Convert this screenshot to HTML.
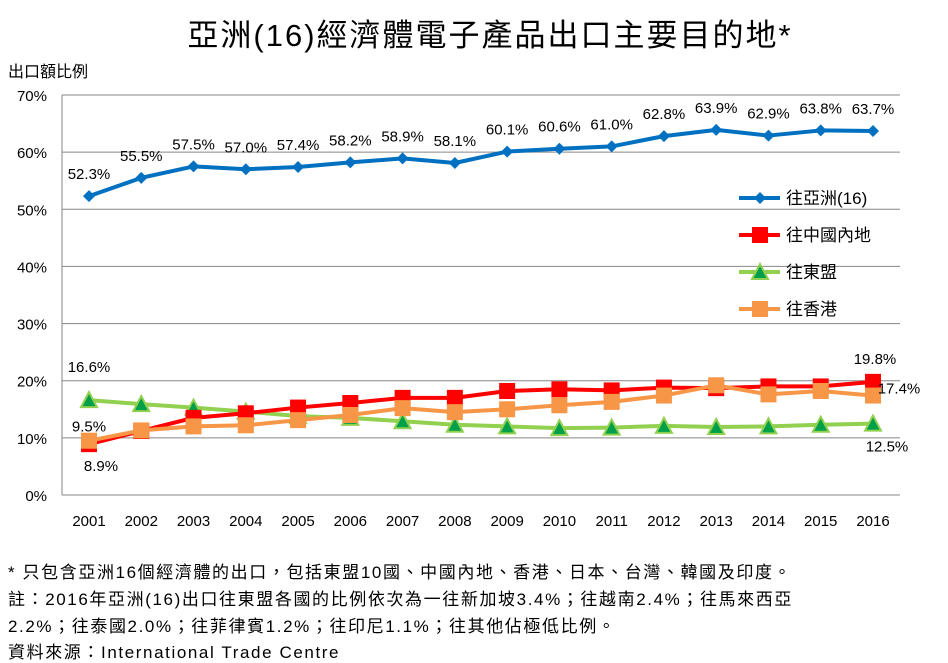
<!DOCTYPE html>
<html><head><meta charset="utf-8">
<style>
body{margin:0;background:#fff;width:948px;height:662px;overflow:hidden;font-family:"Liberation Sans","Noto Sans CJK TC",sans-serif;}
svg text{font-family:"Liberation Sans","Noto Sans CJK TC",sans-serif;}
.note{position:absolute;left:8px;font-size:17px;letter-spacing:1.6px;color:#000;line-height:21px;white-space:nowrap;}
</style></head>
<body>
<svg id="chart" width="948" height="662" style="position:absolute;left:0;top:0">
<text x="490" y="46" font-size="31" letter-spacing="2" text-anchor="middle">亞洲(16)經濟體電子產品出口主要目的地*</text>
<text x="8" y="77" font-size="16">出口額比例</text>
<g id="grid"></g><g id="series"></g><g id="legend"></g>
</svg>
<div class="note" style="top:562px">* 只包含亞洲16個經濟體的出口，包括東盟10國、中國內地、香港、日本、台灣、韓國及印度。</div>
<div class="note" style="top:589px">註：2016年亞洲(16)出口往東盟各國的比例依次為一往新加坡3.4%；往越南2.4%；往馬來西亞</div>
<div class="note" style="top:616px">2.2%；往泰國2.0%；往菲律賓1.2%；往印尼1.1%；往其他佔極低比例。</div>
<div class="note" style="top:642px">資料來源：International Trade Centre</div>
<script>
const years=[2001,2002,2003,2004,2005,2006,2007,2008,2009,2010,2011,2012,2013,2014,2015,2016];
const yTicks=[0,10,20,30,40,50,60,70];
const asia=[52.3,55.5,57.5,57.0,57.4,58.2,58.9,58.1,60.1,60.6,61.0,62.8,63.9,62.9,63.8,63.7];
const china=[8.9,11.2,13.5,14.3,15.3,16.1,17.0,17.0,18.2,18.5,18.3,18.8,18.7,19.0,19.0,19.8];
const asean=[16.6,15.9,15.3,14.6,13.8,13.5,12.9,12.3,12.0,11.7,11.8,12.1,11.9,12.0,12.3,12.5];
const hk=[9.5,11.3,12.0,12.2,13.1,14.0,15.2,14.5,15.0,15.7,16.3,17.4,19.2,17.6,18.2,17.4];
const NS="http://www.w3.org/2000/svg";
const X0=62,X1=900,Y0=495,Y70=95;
function xs(i){return 89+i*(873-89)/(years.length-1);}
function ys(v){return Y0-(v/70)*(Y0-Y70);}
function mk(tag,attrs,parent,txt){const e=document.createElementNS(NS,tag);for(const k in attrs)e.setAttribute(k,attrs[k]);if(txt!==undefined)e.textContent=txt;parent.appendChild(e);return e;}
const grid=document.getElementById('grid');
yTicks.forEach(t=>{
 const y=ys(t);
 const l=mk('line',{x1:X0,x2:X1,y1:y,y2:y,stroke:'#868686','stroke-width':1},grid);
 
 
 const tx=mk('text',{x:47,y:y+6,'font-size':15,'text-anchor':'end'},grid,t+'%');
 
 
});
const ax=mk('line',{x1:X0,x2:X0,y1:Y70,y2:Y0,stroke:'#868686'},grid);


years.forEach((yr,i)=>{
 const t=mk('text',{x:xs(i),y:526,'font-size':15,'text-anchor':'middle'},grid,yr);
 
 
});
const sg=document.getElementById('series');
function marker(type,x,y,color,g){
 let e;
 if(type==='diamond')e=mk('polygon',{points:`${x},${y-6} ${x+6},${y} ${x},${y+6} ${x-6},${y}`,fill:color},g);
 else if(type==='square')e=mk('rect',{x:x-8,y:y-8,width:16,height:16,fill:color},g);
 else e=mk('polygon',{points:`${x},${y-8} ${x+8},${y+7} ${x-8},${y+7}`,fill:'#00a04a',stroke:'#92d050','stroke-width':2},g);
 return e;
}
function series(name,data,color,type){
 const g=mk('g',{},sg);
 
 
 const pl=mk('polyline',{points:data.map((v,i)=>xs(i)+','+ys(v)).join(' '),fill:'none',stroke:color,'stroke-width':4,'stroke-linejoin':'round'},g);
 
 
 data.forEach((v,i)=>{
  const m=marker(type,xs(i),ys(v),color,g);
  
  
 });
}
series('asean',asean,'#92d050','tri');
series('china',china,'#ff0000','square');
series('hk',hk,'#f79646','square');
series('asia',asia,'#0070c0','diamond');
asia.forEach((v,i)=>{
 const t=mk('text',{x:xs(i),y:ys(v)-17,'font-size':15,'text-anchor':'middle'},sg,v.toFixed(1)+'%');
 
 
});
const n=years.length-1;
[[xs(0),ys(asean[0])-28,asean[0]],[xs(0),ys(hk[0])-9,hk[0]],[xs(0)+12,ys(china[0])+27,china[0]],
 [xs(n)+2,ys(china[n])-18,china[n]],[xs(n)+26,ys(hk[n])-2,hk[n]],[xs(n)+14,ys(asean[n])+28,asean[n]]].forEach((a,k)=>{
 const t=mk('text',{x:a[0],y:a[1],'font-size':15,'text-anchor':'middle'},sg,a[2].toFixed(1)+'%');
 
 
});
const lg=document.getElementById('legend');
[['往亞洲(16)','#0070c0','diamond'],['往中國內地','#ff0000','square'],['往東盟','#92d050','tri'],['往香港','#f79646','square']].forEach((e,k)=>{
 const y=198+k*37;
 const g=mk('g',{},lg);
 
 
 mk('line',{x1:739,x2:780,y1:y,y2:y,stroke:e[1],'stroke-width':4},g);
 marker(e[2],760,y,e[1],g);
 mk('text',{x:786,y:y+6,'font-size':17},g,e[0]);
});
</script>
</body></html>
